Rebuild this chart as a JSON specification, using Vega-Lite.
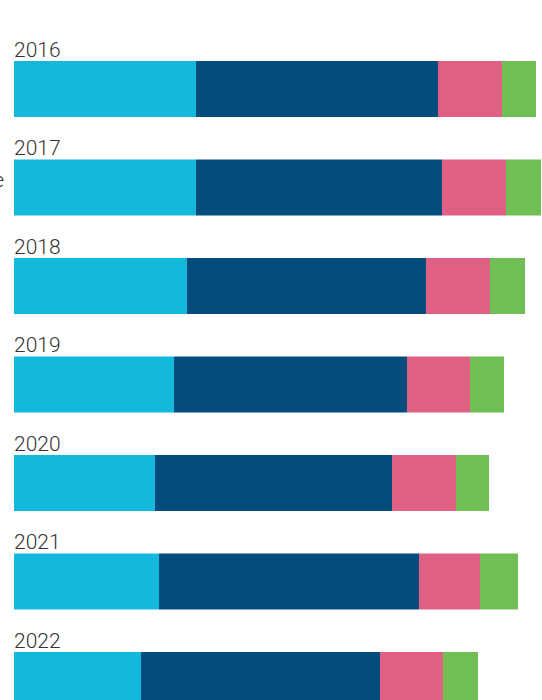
{
  "$schema": "https://vega.github.io/schema/vega-lite/v6.json",
  "width": 542,
  "height": {"step": 98.5},
  "padding": 0,
  "autosize": "none",
  "background": "white",
  "config": {"view": {"stroke": null}},
  "data": {
    "values": [
      {"year": "2016", "seg": "A", "ord": 1, "value": 182},
      {"year": "2016", "seg": "B", "ord": 2, "value": 242},
      {"year": "2016", "seg": "C", "ord": 3, "value": 64},
      {"year": "2016", "seg": "D", "ord": 4, "value": 34},
      {"year": "2017", "seg": "A", "ord": 1, "value": 182},
      {"year": "2017", "seg": "B", "ord": 2, "value": 246},
      {"year": "2017", "seg": "C", "ord": 3, "value": 64},
      {"year": "2017", "seg": "D", "ord": 4, "value": 35},
      {"year": "2018", "seg": "A", "ord": 1, "value": 173},
      {"year": "2018", "seg": "B", "ord": 2, "value": 239},
      {"year": "2018", "seg": "C", "ord": 3, "value": 64},
      {"year": "2018", "seg": "D", "ord": 4, "value": 35},
      {"year": "2019", "seg": "A", "ord": 1, "value": 160},
      {"year": "2019", "seg": "B", "ord": 2, "value": 233},
      {"year": "2019", "seg": "C", "ord": 3, "value": 63},
      {"year": "2019", "seg": "D", "ord": 4, "value": 34},
      {"year": "2020", "seg": "A", "ord": 1, "value": 141},
      {"year": "2020", "seg": "B", "ord": 2, "value": 237},
      {"year": "2020", "seg": "C", "ord": 3, "value": 64},
      {"year": "2020", "seg": "D", "ord": 4, "value": 33},
      {"year": "2021", "seg": "A", "ord": 1, "value": 145},
      {"year": "2021", "seg": "B", "ord": 2, "value": 260},
      {"year": "2021", "seg": "C", "ord": 3, "value": 61},
      {"year": "2021", "seg": "D", "ord": 4, "value": 38},
      {"year": "2022", "seg": "A", "ord": 1, "value": 127},
      {"year": "2022", "seg": "B", "ord": 2, "value": 239},
      {"year": "2022", "seg": "C", "ord": 3, "value": 63},
      {"year": "2022", "seg": "D", "ord": 4, "value": 35}
    ]
  },
  "encoding": {
    "y": {
      "field": "year",
      "type": "ordinal",
      "axis": null,
      "scale": {"type": "band", "paddingInner": 0.4315, "paddingOuter": 0.619}
    }
  },
  "layer": [
    {
      "mark": {"type": "bar", "cornerRadius": 0},
      "encoding": {
        "x": {
          "field": "value",
          "type": "quantitative",
          "stack": "zero",
          "axis": null,
          "scale": {"domain": [-14, 528], "nice": false, "zero": false}
        },
        "color": {
          "field": "seg",
          "type": "nominal",
          "legend": null,
          "scale": {"domain": ["A", "B", "C", "D"], "range": ["#12b9dd", "#044c7e", "#e06084", "#70bf55"]}
        },
        "order": {"field": "ord", "type": "quantitative"}
      }
    },
    {
      "transform": [{"filter": "datum.seg === 'A'"}],
      "mark": {"type": "text", "align": "left", "baseline": "alphabetic", "dy": -4, "font": "Roboto", "fontWeight": 300, "fontSize": 21, "color": "#333333"},
      "encoding": {
        "x": {"datum": 0, "type": "quantitative"},
        "y": {"field": "year", "type": "ordinal", "bandPosition": 0},
        "text": {"field": "year"}
      }
    },
    {
      "transform": [{"filter": "datum.seg === 'A' && datum.year === '2017'"}],
      "mark": {"type": "text", "align": "right", "baseline": "middle", "dy": -6, "font": "Roboto", "fontWeight": 300, "fontSize": 21, "color": "#333333"},
      "encoding": {
        "x": {"datum": -10, "type": "quantitative"},
        "y": {"field": "year", "type": "ordinal"},
        "text": {"value": "e"}
      }
    }
  ]
}
